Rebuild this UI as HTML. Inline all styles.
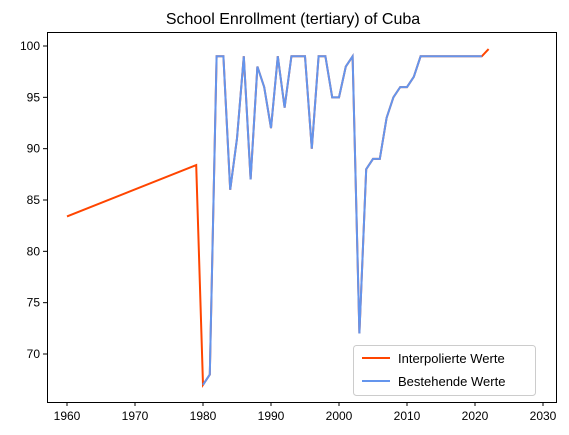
<!DOCTYPE html>
<html><head><meta charset="utf-8"><style>body{margin:0;background:#fff}svg{display:block;font-family:"Liberation Sans","DejaVu Sans",sans-serif}</style></head>
<body>
<svg id="chart" width="569" height="435">
<text x="293" y="24" font-size="16" text-anchor="middle">School Enrollment (tertiary) of Cuba</text>
<g id="ticks"></g>
<g id="series"></g>
<rect x="47.5" y="32.5" width="509" height="370" fill="none" stroke="#000" stroke-width="1"/>
<g>
<rect x="353.5" y="345.5" width="182" height="50" rx="3" fill="#fff" stroke="#ccc"/>
<line x1="362" y1="358" x2="390" y2="358" stroke="#ff4500" stroke-width="2"/>
<text x="398" y="363" font-size="13">Interpolierte Werte</text>
<line x1="362" y1="381" x2="390" y2="381" stroke="#6495ed" stroke-width="2"/>
<text x="398" y="386" font-size="13">Bestehende Werte</text>
</g>
</svg>
<script>
const years=[1980,1981,1982,1983,1984,1985,1986,1987,1988,1989,1990,1991,1992,1993,1994,1995,1996,1997,1998,1999,2000,2001,2002,2003,2004,2005,2006,2007,2008,2009,2010,2011,2012,2013,2014,2015,2016,2017,2018,2019,2020,2021];
const existing=[67,68,99,99,86,91,99,87,98,96,92,99,94,99,99,99,90,99,99,95,95,98,99,72,88,89,89,93,95,96,96,97,99,99,99,99,99,99,99,99,99,99];
const interpYearsStart=[1960,1979];
const interpValuesStart=[83.4,88.4];
const interpYearsEnd=[2022];
const interpValuesEnd=[99.7];
const xTicks=[1960,1970,1980,1990,2000,2010,2020,2030];
const yTicks=[70,75,80,85,90,95,100];
const X=y=>67+(y-1960)*(543-67)/70;
const Y=v=>354-(v-70)*(354-46)/30;
const NS="http://www.w3.org/2000/svg";
const tg=document.getElementById('ticks'),sg=document.getElementById('series');
function mk(tag,attrs,par){const e=document.createElementNS(NS,tag);for(const k in attrs)e.setAttribute(k,attrs[k]);par.appendChild(e);return e;}
xTicks.forEach(t=>{const x=X(t);
const l=mk('line',{x1:x,x2:x,y1:402,y2:406,stroke:'#000'},tg);


const tx=mk('text',{x:x,y:420,'font-size':12,'text-anchor':'middle'},tg);tx.textContent=t;

});
yTicks.forEach(t=>{const y=Y(t);
const l=mk('line',{x1:43,x2:47,y1:y,y2:y,stroke:'#000'},tg);


const tx=mk('text',{x:40,y:y+4,'font-size':12,'text-anchor':'end'},tg);tx.textContent=t;

});
const iy=interpYearsStart.concat(years,interpYearsEnd),iv=interpValuesStart.concat(existing,interpValuesEnd);
const p1=mk('polyline',{points:iy.map((y,i)=>X(y)+','+Y(iv[i])).join(' '),fill:'none',stroke:'#ff4500','stroke-width':2},sg);


const p2=mk('polyline',{points:years.map((y,i)=>X(y)+','+Y(existing[i])).join(' '),fill:'none',stroke:'#6495ed','stroke-width':2},sg);


</script>
</body></html>
